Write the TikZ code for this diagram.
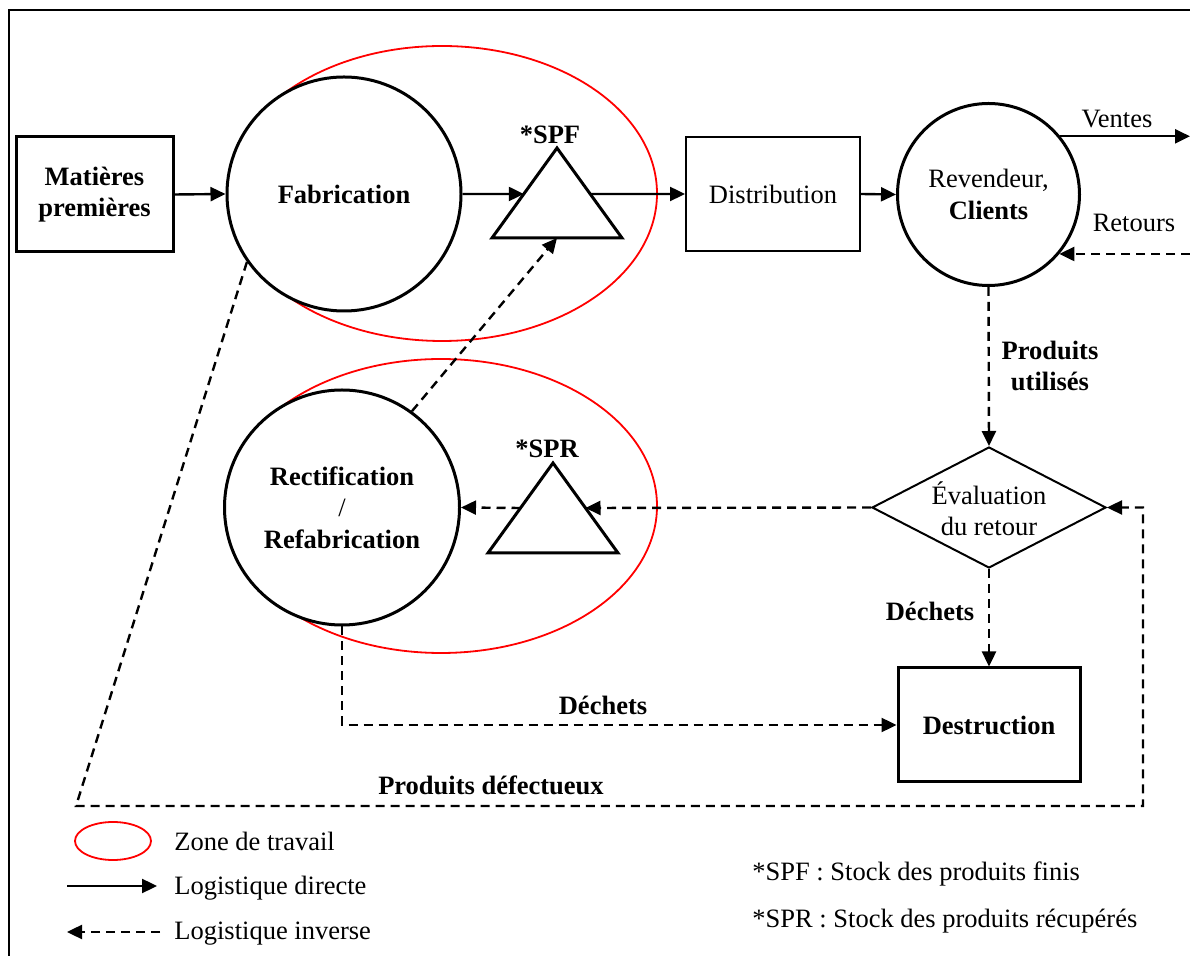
\documentclass[tikz,border=0pt]{standalone}
\usepackage{fontspec}
\setmainfont{Liberation Serif}
\usetikzlibrary{arrows.meta,shapes.geometric,calc}
\begin{document}
\begin{tikzpicture}[x=0.5pt,y=-0.5pt,
  font=\fontsize{13.25}{15.75}\selectfont,
  bf/.style={font=\fontsize{13.25}{15.75}\selectfont\bfseries},
  thickbox/.style={draw,line width=1.5pt,rectangle,inner sep=0pt,align=center},
  thinbox/.style={draw,line width=1pt,rectangle,inner sep=0pt,align=center},
  proc/.style={draw,line width=1.5pt,circle,fill=white,inner sep=0pt,align=center},
  zone/.style={draw=red,line width=0.9pt,ellipse,inner sep=0pt},
  tri/.style={line width=1.5pt,line join=miter},
  fwd/.style={line width=1.2pt,-{Triangle[length=7.5pt,width=7pt]}},
  back/.style={line width=1.2pt,dash pattern=on 4.5pt off 3pt,-{Triangle[length=7.5pt,width=7pt]}},
  lbl/.style={inner sep=0pt,align=center},
]
\useasboundingbox (0,0) rectangle (1190,956);
\draw[line width=1pt] (9,956) -- (9,10) -- (1190,10);

% work zones
\node[zone,minimum width=215pt,minimum height=147.5pt] (zone1) at (442,193.5) {};
\node[zone,minimum width=216pt,minimum height=147pt] (zone2) at (441,506) {};

% main nodes
\node[thickbox,minimum width=78.5pt,minimum height=57.5pt,bf] (mp) at (94.5,194.5) {Matières\\premières};
\node[proc,minimum size=117pt,bf] (fab) at (344,194) {Fabrication};
\node[thinbox,minimum width=87pt,minimum height=57pt] (dist) at (773,194) {Distribution};
\node[proc,minimum size=91pt] (rvd) at (988.5,194.5) {Revendeur,\\\textbf{Clients}};
\node[proc,minimum size=117.5pt] (rect) at (342,507.5) {\textbf{Rectification}\\/\\\textbf{Refabrication}};
\node[draw,diamond,line width=1pt,inner sep=0pt,minimum width=117pt,minimum height=60.5pt] (eval) at (989,507.5) {};
\node[lbl] (evalt) at (989,509) {Évaluation\\du retour};
\node[thickbox,minimum width=91pt,minimum height=57pt,bf] (dest) at (989,725) {Destruction};

% stock triangles
\coordinate (spfA) at (557,148);
\coordinate (spfL) at (492,238);
\coordinate (spfR) at (622,238);
\coordinate (spfB) at (557,238);
\draw[tri] (spfA) -- (spfL) -- (spfR) -- cycle;
\coordinate (spfin) at ($(spfL)!0.4889!(spfA)$);
\coordinate (spfout) at ($(spfR)!0.4889!(spfA)$);
\node[lbl,bf] (spflbl) at (550,135) {*SPF};

\coordinate (sprA) at (553,463);
\coordinate (sprL) at (488,553);
\coordinate (sprR) at (618,553);
\draw[tri] (sprA) -- (sprL) -- (sprR) -- cycle;
\coordinate (sprin) at ($(sprR)!0.5!(sprA)$);
\coordinate (sprout) at ($(sprL)!0.5!(sprA)$);
\node[lbl,bf] (sprlbl) at (547,449) {*SPR};

% direct flows
\draw[fwd] (mp.east) -- (fab.west);
\draw[fwd] (fab.east) -- (spfin);
\draw[fwd] (spfout) -- (dist.west);
\draw[fwd] (dist.east) -- (rvd.west);
\coordinate (vend) at (1190,137);
\draw[fwd] (rvd.39) -- (rvd.39 -| vend);
\node[lbl] (ventes) at (1117,119) {Ventes};

% reverse flows
\coordinate (rstart) at (1190,254);
\draw[back] (rvd.-40 -| rstart) -- (rvd.-40);
\node[lbl] (retours) at (1134,223) {Retours};
\draw[back] (rvd.south) -- (eval.north);
\node[lbl,bf] (pu) at (1050,366) {Produits\\utilisés};
\draw[back] (eval.west) -- (sprin);
\draw[back] (sprout) -- (rect.east);
\draw[back] (rect.54) -- (spfB);
\draw[back] (rect.south) |- (dest.west);
\node[lbl,bf] (dech1) at (603,705) {Déchets};
\draw[back] (eval.south) -- (dest.north);
\node[lbl,bf] (dech2) at (930,611) {Déchets};
\coordinate (d1) at (76,806);
\coordinate (d2) at (1143,806);
\draw[back] (fab.215) -- (d1) -- (d2) -- (d2 |- eval.east) -- (eval.east);
\node[lbl,bf] (pd) at (491,785) {Produits défectueux};

% legend
\node[zone,minimum width=38pt,minimum height=19pt] (lz) at (113,841) {};
\node[lbl,anchor=west] (lzt) at (174,841) {Zone de travail};
\coordinate (la1) at (67,886);
\coordinate (la2) at (157,886);
\draw[fwd] (la1) -- (la2);
\node[lbl,anchor=west] (lat) at (174,888) {Logistique directe};
\coordinate (lb1) at (160,932);
\coordinate (lb2) at (67,932);
\draw[back] (lb1) -- (lb2);
\node[lbl,anchor=west] (lbt) at (174,934) {Logistique inverse};
\node[lbl,anchor=west] (k1) at (752,874) {*SPF : Stock des produits finis};
\node[lbl,anchor=west] (k2) at (752,921) {*SPR : Stock des produits récupérés};
\end{tikzpicture}
\end{document}
